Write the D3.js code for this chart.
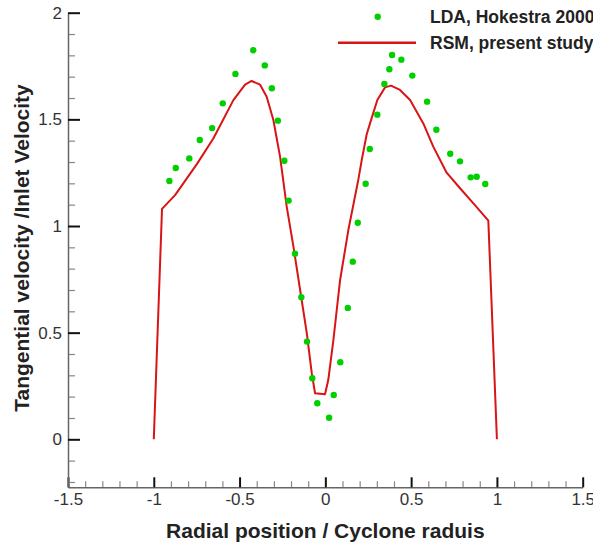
<!DOCTYPE html>
<html>
<head>
<meta charset="utf-8">
<script src="https://cdn.jsdelivr.net/npm/d3@7"></script>
<style>
  body { margin: 0; background: #fff; }
  svg { display: block; font-family: Arial, "Liberation Sans", sans-serif; }
</style>
</head>
<body>
<svg id="chart" width="593" height="545"></svg>
<script>
// LDA measurements (Hoekstra 2000)
const ldaX = [-0.909, -0.872, -0.793, -0.732, -0.660, -0.598, -0.524, -0.420, -0.353, -0.312,
  -0.277, -0.239, -0.214, -0.177, -0.140, -0.107, -0.076, -0.047, 0.022, 0.049,
  0.087, 0.131, 0.160, 0.189, 0.235, 0.259, 0.303, 0.344, 0.373, 0.389,
  0.443, 0.507, 0.593, 0.647, 0.728, 0.785, 0.847, 0.882, 0.932];
const ldaY = [1.211, 1.272, 1.317, 1.403, 1.459, 1.575, 1.713, 1.824, 1.753, 1.646,
  1.494, 1.306, 1.119, 0.870, 0.666, 0.458, 0.286, 0.169, 0.101, 0.208,
  0.361, 0.616, 0.833, 1.015, 1.198, 1.361, 1.522, 1.666, 1.735, 1.802,
  1.780, 1.705, 1.583, 1.451, 1.339, 1.303, 1.228, 1.231, 1.197];

// RSM, present study
const rsmX = [-1.0, -0.952, -0.876, -0.749, -0.653, -0.536, -0.468, -0.43, -0.381, -0.342,
  -0.303, -0.264, -0.225, -0.186, -0.147, -0.108, -0.079, -0.060, -0.002, 0.017,
  0.047, 0.086, 0.134, 0.192, 0.212, 0.241, 0.260, 0.303, 0.348, 0.383,
  0.435, 0.494, 0.571, 0.629, 0.707, 0.785, 0.872, 0.950, 1.0];
const rsmY = [0, 1.08, 1.145, 1.29, 1.41, 1.59, 1.663, 1.68, 1.663, 1.606,
  1.497, 1.325, 1.09, 0.903, 0.70, 0.497, 0.309, 0.216, 0.211, 0.278,
  0.466, 0.747, 0.981, 1.216, 1.309, 1.43, 1.48, 1.591, 1.650, 1.658,
  1.638, 1.591, 1.481, 1.372, 1.25, 1.177, 1.098, 1.025, 0];

const xTicks = [-1.5, -1, -0.5, 0, 0.5, 1, 1.5];
const yTicks = [0, 0.5, 1, 1.5, 2];
const legendLabels = ["LDA, Hokestra 2000", "RSM, present study"];

const svg = d3.select("#chart");
const width = 593, height = 545;
const margin = { top: 12.7, right: 10.3, bottom: 57.7, left: 68 };

const x = d3.scaleLinear().domain([-1.5, 1.5]).range([margin.left, width - margin.right]);
const y = d3.scaleLinear().domain([-0.225, 2]).range([height - margin.bottom, margin.top]);

const green = "#00d000";
const red = "#d81414";

// minor ticks every 0.1
const xMinor = d3.range(-15, 16).map(d => d / 10).filter(v => !xTicks.some(t => Math.abs(t - v) < 1e-6));
const yMinor = d3.range(-2, 21).map(d => d / 10).filter(v => !yTicks.some(t => Math.abs(t - v) < 1e-6));

// x axis
svg.append("g")
  .attr("transform", `translate(0,${y(-0.225)})`)
  .call(d3.axisBottom(x).tickValues(xMinor).tickSize(-6).tickSizeOuter(0).tickFormat(""))
  .call(g => g.select(".domain").remove())
  .selectAll("line").attr("stroke", "#888").attr("stroke-width", 1.2);

const gx = svg.append("g")
  .attr("transform", `translate(0,${y(-0.225)})`)
  .call(d3.axisBottom(x).tickValues(xTicks).tickSize(-10).tickSizeOuter(0).tickPadding(6)
    .tickFormat(d => d));
gx.select(".domain").attr("stroke", "#666").attr("stroke-width", 1.5);
gx.selectAll("line").attr("stroke", "#111").attr("stroke-width", 2);
gx.selectAll("text").attr("fill", "#333").style("font-size", "17px");

// y axis
svg.append("g")
  .attr("transform", `translate(${x(-1.5)},0)`)
  .call(d3.axisLeft(y).tickValues(yMinor).tickSize(-7).tickSizeOuter(0).tickFormat(""))
  .call(g => g.select(".domain").remove())
  .selectAll("line").attr("stroke", "#888").attr("stroke-width", 1.2);

const gy = svg.append("g")
  .attr("transform", `translate(${x(-1.5)},0)`)
  .call(d3.axisLeft(y).tickValues(yTicks).tickSize(-12).tickSizeOuter(0).tickPadding(6)
    .tickFormat(d => d));
gy.select(".domain").attr("stroke", "#666").attr("stroke-width", 1.5);
gy.selectAll("line").attr("stroke", "#111").attr("stroke-width", 2);
gy.selectAll("text").attr("fill", "#333").style("font-size", "17px");

// RSM line
const rsm = rsmX.map((v, i) => [v, rsmY[i]]);
svg.append("path")
  .datum(rsm)
  .attr("fill", "none")
  .attr("stroke", red)
  .attr("stroke-width", 2)
  .attr("stroke-linejoin", "round")
  .attr("d", d3.line().x(d => x(d[0])).y(d => y(d[1])));

// LDA points
svg.append("g")
  .selectAll("circle")
  .data(ldaX.map((v, i) => [v, ldaY[i]]))
  .join("circle")
  .attr("cx", d => x(d[0]))
  .attr("cy", d => y(d[1]))
  .attr("r", 3.2)
  .attr("fill", green);

// axis titles
svg.append("text")
  .attr("x", x(0))
  .attr("y", 538)
  .attr("text-anchor", "middle")
  .attr("font-weight", "bold")
  .attr("fill", "#222")
  .style("font-size", "21px")
  .text("Radial position / Cyclone raduis");

svg.append("text")
  .attr("transform", "translate(28.5,248) rotate(-90)")
  .attr("text-anchor", "middle")
  .attr("font-weight", "bold")
  .attr("fill", "#222")
  .style("font-size", "21px")
  .text("Tangential velocity /Inlet Velocity");

// legend
const legend = svg.append("g");
legend.append("circle").attr("cx", 377.7).attr("cy", 16.7).attr("r", 3.2).attr("fill", green);
legend.append("line").attr("x1", 338).attr("x2", 416).attr("y1", 42.7).attr("y2", 42.7)
  .attr("stroke", red).attr("stroke-width", 2.5);
legend.selectAll("text")
  .data(legendLabels)
  .join("text")
  .attr("x", 430)
  .attr("y", (d, i) => 22.7 + i * 26)
  .attr("font-weight", "bold")
  .attr("fill", "#222")
  .style("font-size", "17.5px")
  .text(d => d);
</script>
</body>
</html>
